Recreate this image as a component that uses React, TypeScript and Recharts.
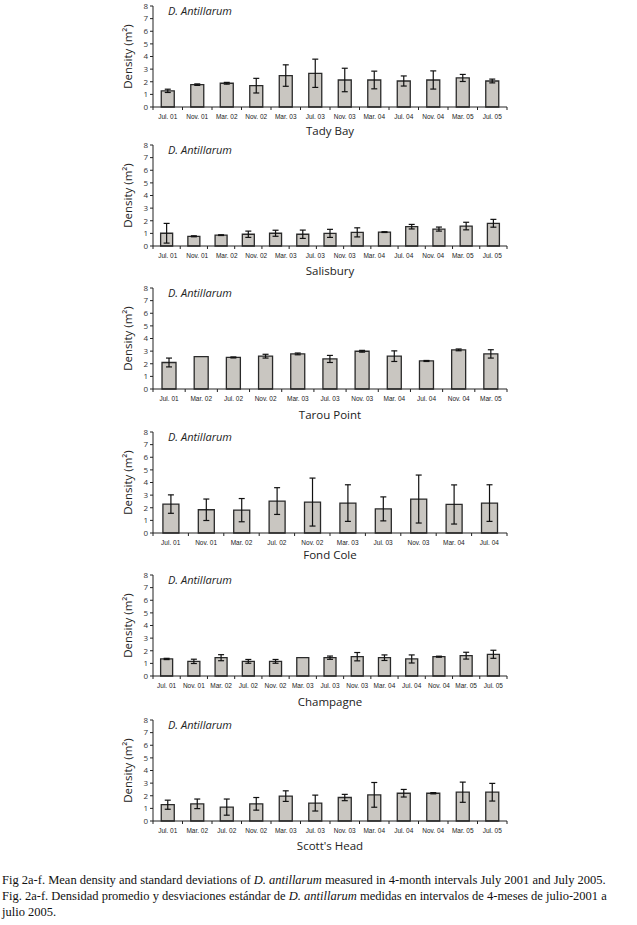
import React from 'react'
import { BarChart, Bar, XAxis, YAxis, ErrorBar } from 'recharts'

// density values (individuals per m2)
const Y_TICKS = [0, 1, 2, 3, 4, 5, 6, 7, 8]

const tadyBayDates = ['Jul. 01', 'Nov. 01', 'Mar. 02', 'Nov. 02', 'Mar. 03', 'Jul. 03', 'Nov. 03', 'Mar. 04', 'Jul. 04', 'Nov. 04', 'Mar. 05', 'Jul. 05']
const tadyBayMeans = [1.28, 1.77, 1.88, 1.69, 2.49, 2.67, 2.14, 2.14, 2.06, 2.14, 2.3, 2.06]
const tadyBaySd = [0.13, 0.06, 0.07, 0.58, 0.85, 1.12, 0.93, 0.7, 0.4, 0.72, 0.28, 0.15]

// 13 bars but only 12 labels printed under them in the original
const salisburyDates = ['Jul. 01', 'Nov. 01', 'Mar. 02', 'Jul. 02', 'Nov. 02', 'Mar. 03', 'Jul. 03', 'Nov. 03', 'Mar. 04', 'Jul. 04', 'Nov. 04', 'Mar. 05', 'Jul. 05']
const salisburyLabels = ['Jul. 01', 'Nov. 01', 'Mar. 02', 'Nov. 02', 'Mar. 03', 'Jul. 03', 'Nov. 03', 'Mar. 04', 'Jul. 04', 'Nov. 04', 'Mar. 05', 'Jul. 05']
const salisburyMeans = [1.01, 0.77, 0.86, 0.93, 1.01, 0.93, 1.0, 1.08, 1.1, 1.53, 1.34, 1.58, 1.8]
const salisburySd = [0.78, 0.04, 0.03, 0.25, 0.24, 0.33, 0.32, 0.36, 0.03, 0.18, 0.16, 0.3, 0.31]

const tarouDates = ['Jul. 01', 'Mar. 02', 'Jul. 02', 'Nov. 02', 'Mar. 03', 'Jul. 03', 'Nov. 03', 'Mar. 04', 'Jul. 04', 'Nov. 04', 'Mar. 05']
const tarouMeans = [2.1, 2.57, 2.5, 2.6, 2.78, 2.38, 2.99, 2.6, 2.22, 3.1, 2.78]
const tarouSd = [0.35, 0, 0.04, 0.15, 0.07, 0.28, 0.07, 0.42, 0.04, 0.07, 0.33]

const fondColeDates = ['Jul. 01', 'Nov. 01', 'Mar. 02', 'Jul. 02', 'Nov. 02', 'Mar. 03', 'Jul. 03', 'Nov. 03', 'Mar. 04', 'Jul. 04']
const fondColeMeans = [2.29, 1.84, 1.81, 2.53, 2.45, 2.37, 1.91, 2.69, 2.26, 2.37]
const fondColeSd = [0.73, 0.85, 0.92, 1.06, 1.9, 1.45, 0.95, 1.9, 1.55, 1.45]

const champagneDates = ['Jul. 01', 'Nov. 01', 'Mar. 02', 'Jul. 02', 'Nov. 02', 'Mar. 03', 'Jul. 03', 'Nov. 03', 'Mar. 04', 'Jul. 04', 'Nov. 04', 'Mar. 05', 'Jul. 05']
const champagneMeans = [1.35, 1.16, 1.45, 1.16, 1.16, 1.45, 1.45, 1.53, 1.45, 1.35, 1.53, 1.61, 1.72]
const champagneSd = [0.05, 0.17, 0.24, 0.15, 0.15, 0, 0.13, 0.33, 0.22, 0.32, 0.04, 0.27, 0.32]

const scottsDates = ['Jul. 01', 'Mar. 02', 'Jul. 02', 'Nov. 02', 'Mar. 03', 'Jul. 03', 'Nov. 03', 'Mar. 04', 'Jul. 04', 'Nov. 04', 'Mar. 05', 'Jul. 05']
const scottsMeans = [1.29, 1.36, 1.1, 1.36, 1.97, 1.42, 1.86, 2.07, 2.2, 2.2, 2.28, 2.28]
const scottsSd = [0.36, 0.38, 0.64, 0.5, 0.42, 0.63, 0.25, 0.98, 0.3, 0.05, 0.8, 0.7]

const panels = [
  { name: 'Tady Bay', dates: tadyBayDates, labels: tadyBayDates, means: tadyBayMeans, sd: tadyBaySd },
  { name: 'Salisbury', dates: salisburyDates, labels: salisburyLabels, means: salisburyMeans, sd: salisburySd },
  { name: 'Tarou Point', dates: tarouDates, labels: tarouDates, means: tarouMeans, sd: tarouSd },
  { name: 'Fond Cole', dates: fondColeDates, labels: fondColeDates, means: fondColeMeans, sd: fondColeSd },
  { name: 'Champagne', dates: champagneDates, labels: champagneDates, means: champagneMeans, sd: champagneSd },
  { name: "Scott's Head", dates: scottsDates, labels: scottsDates, means: scottsMeans, sd: scottsSd },
]

// layout: y of the top of each plot area, and gap from x axis to site name
const PLOT_TOPS = [6, 145, 288, 432, 575, 720]
const TITLE_GAPS = [24, 25, 26, 22, 26, 25]
const PLOT_H = 101
const AXIS_X = 153
const PLOT_RIGHT = 507
const CHART_H = 6 + PLOT_H + 20

const SANS = '"Open Sans", "Noto Sans", sans-serif'
const NARROW = '"Liberation Sans Narrow", "Liberation Sans", sans-serif'
const INK = '#222'

// excel style: tick marks between categories, not under them
function BoundaryTick(props: any) {
  const { x, y, payload, index, visibleTicksCount } = props
  const half = payload?.offset ?? 0
  const last = index === visibleTicksCount - 1
  return (
    <g>
      <line x1={x - half} y1={y} x2={x - half} y2={y + 3} stroke={INK} strokeWidth={1} />
      {last && <line x1={x + half} y1={y} x2={x + half} y2={y + 3} stroke={INK} strokeWidth={1} />}
    </g>
  )
}

function Panel({ panel, top, titleGap }: { panel: (typeof panels)[number]; top: number; titleGap: number }) {
  const data = panel.dates.map((d, i) => ({ date: d, mean: panel.means[i], sd: panel.sd[i] }))
  const labelData = panel.labels.map((l) => ({ label: l }))

  return (
    <div style={{ position: 'absolute', left: 0, top: top - 6, width: 637, height: 160 }}>
      <BarChart
        width={637}
        height={CHART_H}
        data={data}
        margin={{ top: 6, right: 637 - PLOT_RIGHT, bottom: 0, left: 0 }}
        barCategoryGap="28%"
      >
        <XAxis
          dataKey="date"
          interval={0}
          tickLine={false}
          tickSize={0}
          tickMargin={0}
          height={20}
          axisLine={{ stroke: INK, strokeWidth: 1 }}
          tick={<BoundaryTick />}
        />
        <YAxis
          domain={[0, 8]}
          ticks={Y_TICKS}
          interval={0}
          width={AXIS_X}
          tickSize={3}
          tickMargin={2}
          axisLine={{ stroke: INK }}
          tickLine={{ stroke: INK }}
          tick={{ fontSize: 8, fill: '#333', fontFamily: SANS }}
          label={{
            value: 'Density (m²)',
            angle: -90,
            position: 'insideLeft',
            offset: 128,
            style: { textAnchor: 'middle', fontSize: 11.5, fill: INK, fontFamily: SANS },
          }}
        />
        <Bar dataKey="mean" fill="#c9c6c1" stroke="#2a2a2a" strokeWidth={1.3} isAnimationActive={false}>
          <ErrorBar dataKey="sd" width={3} stroke="#111" strokeWidth={1.2} direction="y" />
        </Bar>
      </BarChart>
      {/* date labels are spread evenly on their own, even where the count differs from the bars */}
      <div style={{ position: 'absolute', left: 0, top: 0, pointerEvents: 'none' }}>
        <BarChart
          width={637}
          height={CHART_H}
          data={labelData}
          margin={{ top: 6, right: 637 - PLOT_RIGHT, bottom: 0, left: AXIS_X }}
        >
          <XAxis
            dataKey="label"
            interval={0}
            axisLine={false}
            tickLine={false}
            tickSize={0}
            tickMargin={7}
            height={20}
            tick={{ fontSize: 6.5, fill: INK, fontFamily: NARROW }}
          />
          <YAxis hide domain={[0, 8]} />
        </BarChart>
      </div>
      <div
        style={{
          position: 'absolute',
          left: 168,
          top: 3,
          fontFamily: SANS,
          fontStyle: 'italic',
          fontSize: 11,
          lineHeight: '15px',
          color: INK,
          whiteSpace: 'nowrap',
        }}
      >
        D. Antillarum
      </div>
      <div
        style={{
          position: 'absolute',
          left: AXIS_X,
          width: PLOT_RIGHT - AXIS_X,
          top: 6 + PLOT_H + titleGap - 8,
          textAlign: 'center',
          fontFamily: SANS,
          fontSize: 11.5,
          lineHeight: '16px',
          color: INK,
        }}
      >
        {panel.name}
      </div>
    </div>
  )
}

export default function App() {
  return (
    <div style={{ position: 'absolute', left: 0, top: 0, width: 637, height: 925, background: '#fff' }}>
      {panels.map((p, i) => (
        <Panel key={p.name} panel={p} top={PLOT_TOPS[i]} titleGap={TITLE_GAPS[i]} />
      ))}
      <div
        style={{
          position: 'absolute',
          left: 2,
          top: 872,
          fontFamily: '"Liberation Serif", "DejaVu Serif", serif',
          fontSize: 12.5,
          lineHeight: '16px',
          color: '#111',
          whiteSpace: 'nowrap',
        }}
      >
        Fig 2a-f. Mean density and standard deviations of <i>D. antillarum</i> measured in 4-month intervals July 2001 and July 2005.
        <br />
        Fig. 2a-f. Densidad promedio y desviaciones estándar de <i>D. antillarum</i> medidas en intervalos de 4-meses de julio-2001 a
        <br />
        julio 2005.
      </div>
    </div>
  )
}
